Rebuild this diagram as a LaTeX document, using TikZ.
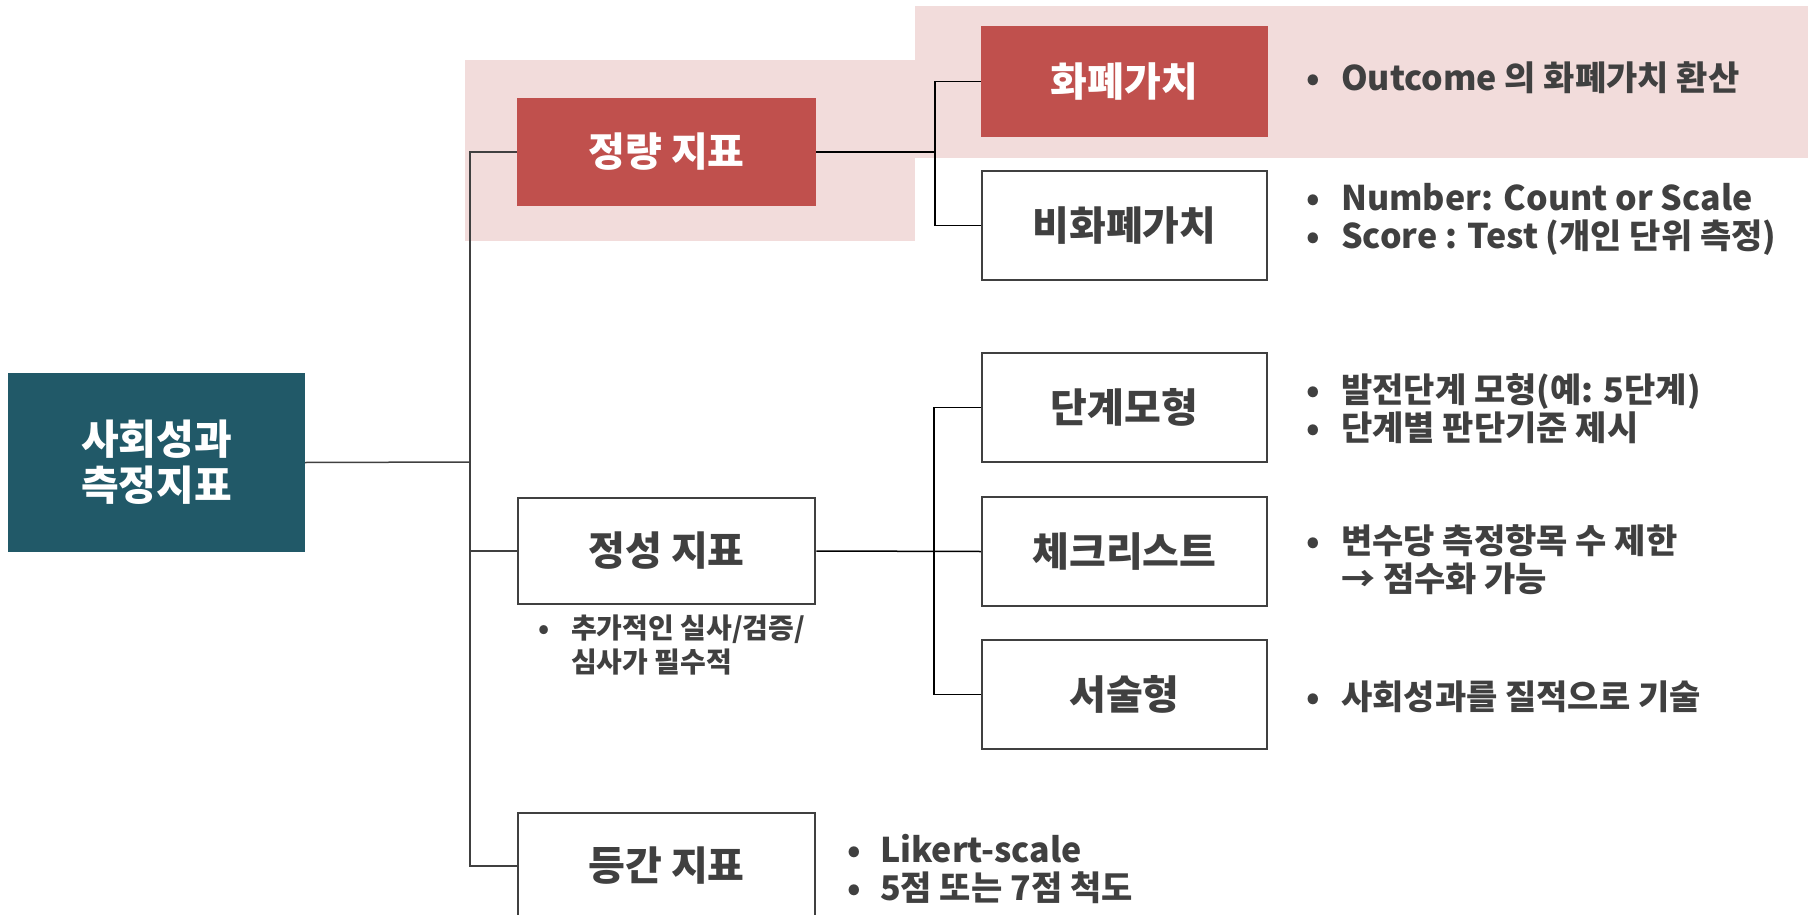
\documentclass[tikz,border=0pt]{standalone}
\usepackage{fontspec}
\usepackage{xcolor}
\setmainfont{Noto Sans CJK KR}
\definecolor{barred}{HTML}{C0504D}
\definecolor{barpink}{HTML}{F2DCDB}
\definecolor{rootteal}{HTML}{215968}
\definecolor{inkgray}{HTML}{404040}
\newcommand{\itm}[1][35pt]{\makebox[#1][l]{•}}

\begin{document}
\begin{tikzpicture}%
  [x=1pt,y=-1pt,font=\bfseries]
  \tikzstyle{box node}=[rectangle,draw=inkgray,line width=2.5pt,text=inkgray,
    minimum width=297pt,minimum height=106pt,font=\bfseries\fontsize{40}{44}\selectfont]
  \tikzstyle{sub node}=[box node,minimum width=285pt,minimum height=109pt]
  \tikzstyle{hot}=[fill=barred,draw=barred,text=white]
  \tikzstyle{note node}=[text=inkgray,inner sep=0,align=left,anchor=west,
    font=\bfseries\fontsize{34}{38}\selectfont]
  \tikzstyle{conn}=[line width=1.5pt,black!75]
  \useasboundingbox (0,0) rectangle (1810,915);
  % highlight band
  \fill[barpink] (465,60) rectangle (915,241);
  \fill[barpink] (915,6) rectangle (1808,158);
  % boxes
  \node(root)[rectangle,fill=rootteal,text=white,minimum width=297pt,minimum height=179pt,
    align=center,font=\bfseries\fontsize{41}{46}\selectfont] at (156.5,462.5) {사회성과\\측정지표};
  \node(quant)[box node,hot] at (666.5,152) {정량 지표};
  \node(qual)[box node] at (666.5,551) {정성 지표};
  \node(interval)[box node] at (666.5,866) {등간 지표};
  \node(money)[sub node,hot] at (1124.5,81.5) {화폐가치};
  \node(nonmoney)[sub node] at (1124.5,225.5) {비화폐가치};
  \node(stage)[sub node] at (1124.5,407.5) {단계모형};
  \node(check)[sub node] at (1124.5,551.5) {체크리스트};
  \node(desc)[sub node] at (1124.5,694.5) {서술형};
  % connectors
  \coordinate(trunk) at (470,462);
  \coordinate(qsplit) at (935,152);
  \coordinate(lsplit) at (934,551);
  \draw[conn] (root.east) -- (trunk);
  \draw[conn] (quant.west) -| (trunk) |- (interval.west);
  \draw[conn] (qual.west) -- (qual.west -| trunk);
  \draw[conn,black] (quant.east) -- (qsplit);
  \draw[conn,black] (money.west) -| (qsplit) |- (nonmoney.west);
  \draw[conn,black] (qual.east) -- (check.west);
  \draw[conn,black] (stage.west) -| (lsplit) |- (desc.west);
  % notes
  \node(moneynote)[note node] at (1306,78) {\itm Outcome 의 화폐가치 환산};
  \node(nonmoneynote)[note node] at (1306,219)
    {\itm Number: Count or Scale\\\itm Score : Test (개인 단위 측정)};
  \node(stagenote)[note node] at (1306,409)
    {\itm 발전단계 모형(예: 5단계)\\\itm 단계별 판단기준 제시};
  \node(checknote)[note node] at (1306,560)
    {\itm 변수당 측정항목 수 제한\\\hspace*{35pt}→ 점수화 가능};
  \node(descnote)[note node] at (1306,697) {\itm 사회성과를 질적으로 기술};
  \node(qualnote)[note node,font=\bfseries\fontsize{28}{34}\selectfont] at (538,645)
    {\itm[33pt]추가적인 실사/검증/\\\hspace*{33pt}심사가 필수적};
  \node(intervalnote)[note node] at (847,868.5)
    {\itm[33pt]Likert-scale\\\itm[33pt]5점 또는 7점 척도};
\end{tikzpicture}
\end{document}
